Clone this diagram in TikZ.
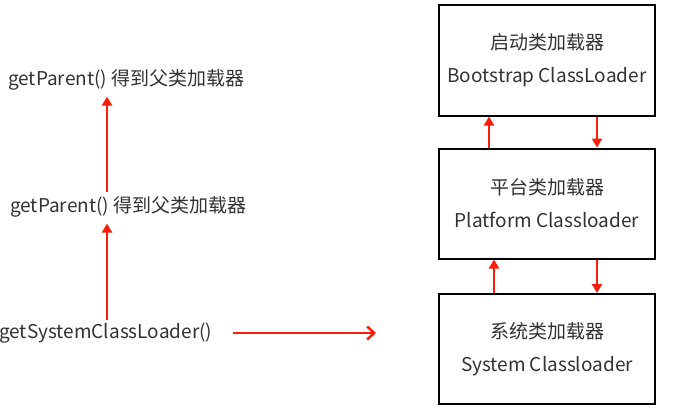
\documentclass[tikz,border=0pt]{standalone}
\usepackage{fontspec}
\setmainfont{Noto Sans CJK SC}
\usetikzlibrary{arrows.meta,calc}
\definecolor{arrowred}{RGB}{250,30,10}
\definecolor{txtgray}{RGB}{50,50,50}
\tikzset{
  loaderbox/.style={draw=black,line width=2pt,minimum width=216pt,minimum height=110pt,
    align=center,text=txtgray,font=\fontsize{19}{33}\selectfont},
  calltext/.style={anchor=west,inner sep=0pt,text=txtgray,font=\fontsize{19}{20}\selectfont},
  redup/.style={arrowred,line width=2.5pt,-{Triangle[length=9pt,width=10pt]}},
  redpoint/.style={arrowred,line width=2.5pt,-{Straight Barb[length=7pt,width=13pt]}}
}
\begin{document}
\begin{tikzpicture}[x=1pt,y=-1pt]
      \useasboundingbox (0,0) rectangle (700,417);
      % class loaders
      \node[loaderbox] (boot) at (547,60.5) {启动类加载器\\Bootstrap ClassLoader};
      \node[loaderbox] (plat) at (547,203.5) {平台类加载器\\Platform Classloader};
      \node[loaderbox] (sys) at (547,349) {系统类加载器\\System Classloader};
      \draw[redup] ($(plat.north west)+(51,0)$) -- ($(boot.south west)+(51,0)$);
      \draw[redup] ($(boot.south west)+(159,0)$) -- ($(plat.north west)+(159,0)$);
      \draw[redup] ($(sys.north west)+(56,0)$) -- ($(plat.south west)+(56,0)$);
      \draw[redup] ($(plat.south west)+(159,0)$) -- ($(sys.north west)+(159,0)$);
      % method calls
      \node[calltext] (gp1) at (8,80) {getParent() 得到父类加载器};
      \node[calltext] (gp2) at (10,207) {getParent() 得到父类加载器};
      \node[calltext] (gsc) at (-1,333) {getSystemClassLoader()};
      \coordinate (vx) at (107,0);
      \coordinate (sysptr) at (376,333);
      \draw[redup,shorten <=3pt,shorten >=6pt] (gsc.north -| vx) -- (gp2.south -| vx);
      \draw[redup,shorten <=4pt,shorten >=6pt] (gp2.north -| vx) -- (gp1.south -| vx);
      \draw[redpoint,shorten <=20pt] (gsc.east) -- (sysptr);
\end{tikzpicture}
\end{document}
